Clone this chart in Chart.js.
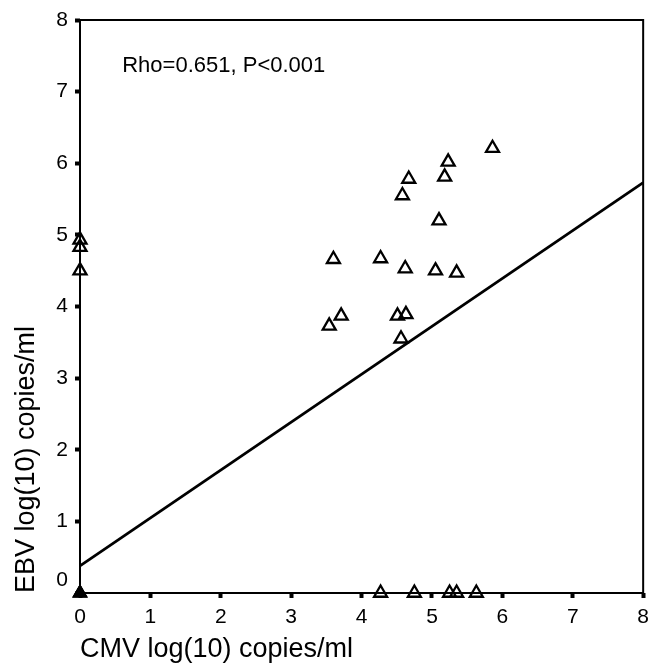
<!DOCTYPE html>
<html>
<head>
<meta charset="utf-8">
<script src="https://cdn.jsdelivr.net/npm/chart.js@4"></script>
<style>
  body { margin: 0; background: #fff; }
  #wrap { width: 656px; height: 666px; }
</style>
</head>
<body>
<div id="wrap"><canvas id="grafico" width="656" height="666"></canvas></div>
<script>
// valores (log10 cópias/ml)
const cmv = [5.86, 5.23, 4.67, 5.18, 4.58, 5.10, 3.60, 4.27, 4.62, 5.05, 5.35, 3.71, 3.54, 4.51, 4.63, 4.56,
             4.27, 4.75, 5.25, 5.35, 5.63,
             0, 0, 0];
const ebv = [6.21, 6.02, 5.78, 5.81, 5.55, 5.20, 4.66, 4.67, 4.53, 4.50, 4.47, 3.87, 3.73, 3.87, 3.89, 3.55,
             0, 0, 0, 0, 0,
             4.93, 4.83, 4.50];
// pontos sobrepostos na origem
const origemX = [0, 0, 0];
const origemY = [0, 0, 0];
// recta de regressão
const retaX = [0, 8];
const retaY = [0.38, 5.73];
const ticks = [0, 1, 2, 3, 4, 5, 6, 7, 8];
const textoRho = "Rho=0.651, P<0.001";

const fonte = "'Liberation Sans', Arial, Helvetica, sans-serif";

const pontos = cmv.map((x, i) => ({ x, y: ebv[i] }));
const pontosOrigem = origemX.map((x, i) => ({ x, y: origemY[i] }));
const reta = retaX.map((x, i) => ({ x, y: retaY[i] }));

// caixa à volta + etiqueta "0" do eixo y (desviada para cima) + texto Rho
const extras = {
  id: "extras",
  beforeDatasetsDraw(chart) {
    const { ctx, chartArea: a } = chart;
    ctx.save();
    ctx.strokeStyle = "#000";
    ctx.lineWidth = 2;
    ctx.strokeRect(a.left, a.top, a.right - a.left, a.bottom - a.top);
    ctx.restore();
  },
  afterDraw(chart) {
    const { ctx } = chart;
    const xs = chart.scales.x;
    const ys = chart.scales.y;
    ctx.save();
    ctx.fillStyle = "#000";
    ctx.font = "21px " + fonte;
    ctx.textAlign = "right";
    ctx.textBaseline = "middle";
    ctx.fillText("0", xs.left - 12, ys.getPixelForValue(0.18));
    ctx.font = "22px " + fonte;
    ctx.textAlign = "left";
    ctx.textBaseline = "alphabetic";
    ctx.fillText(textoRho, xs.getPixelForValue(0.6), ys.getPixelForValue(7.28));
    ctx.restore();
  },
};

new Chart(document.getElementById("grafico").getContext("2d"), {
  type: "scatter",
  data: {
    datasets: [
      {
        type: "line",
        data: reta,
        borderColor: "#000",
        borderWidth: 2.8,
        pointRadius: 0,
        fill: false,
      },
      {
        data: pontos,
        pointStyle: "triangle",
        pointRadius: 7.5,
        borderWidth: 2.3,
        borderColor: "#000",
        backgroundColor: "rgba(0,0,0,0)",
      },
      {
        data: pontosOrigem,
        pointStyle: "triangle",
        pointRadius: 7,
        borderWidth: 2,
        borderColor: "#000",
        backgroundColor: "#000",
      },
    ],
  },
  options: {
    responsive: false,
    animation: false,
    clip: false,
    layout: { padding: { top: 20, right: 5, left: 0, bottom: 0 } },
    plugins: { legend: { display: false }, tooltip: { enabled: false } },
    scales: {
      x: {
        type: "linear",
        min: 0,
        max: 8,
        afterBuildTicks: (s) => { s.ticks = ticks.map((v) => ({ value: v })); },
        afterFit: (s) => { s.height = 73; },
        border: { display: false },
        grid: { drawOnChartArea: false, tickLength: 5, tickWidth: 4, tickColor: "#000" },
        ticks: { color: "#000", padding: 7, font: { family: fonte, size: 21 } },
        title: {
          display: true,
          text: "CMV log(10) copies/ml",
          align: "start",
          color: "#000",
          font: { family: fonte, size: 27 },
          padding: { top: 0, bottom: 0 },
        },
      },
      y: {
        type: "linear",
        min: 0,
        max: 8,
        afterBuildTicks: (s) => { s.ticks = ticks.map((v) => ({ value: v })); },
        afterFit: (s) => { s.width = 80; },
        border: { display: false },
        grid: { drawOnChartArea: false, tickLength: 5, tickWidth: 4, tickColor: "#000" },
        ticks: {
          color: "#000",
          padding: 7,
          font: { family: fonte, size: 21 },
          callback: (v) => (v === 0 ? "" : String(v)),
        },
        title: {
          display: true,
          text: "EBV log(10) copies/ml",
          align: "start",
          color: "#000",
          font: { family: fonte, size: 27 },
          padding: { top: 10, bottom: 0 },
        },
      },
    },
  },
  plugins: [extras],
});
</script>
</body>
</html>
